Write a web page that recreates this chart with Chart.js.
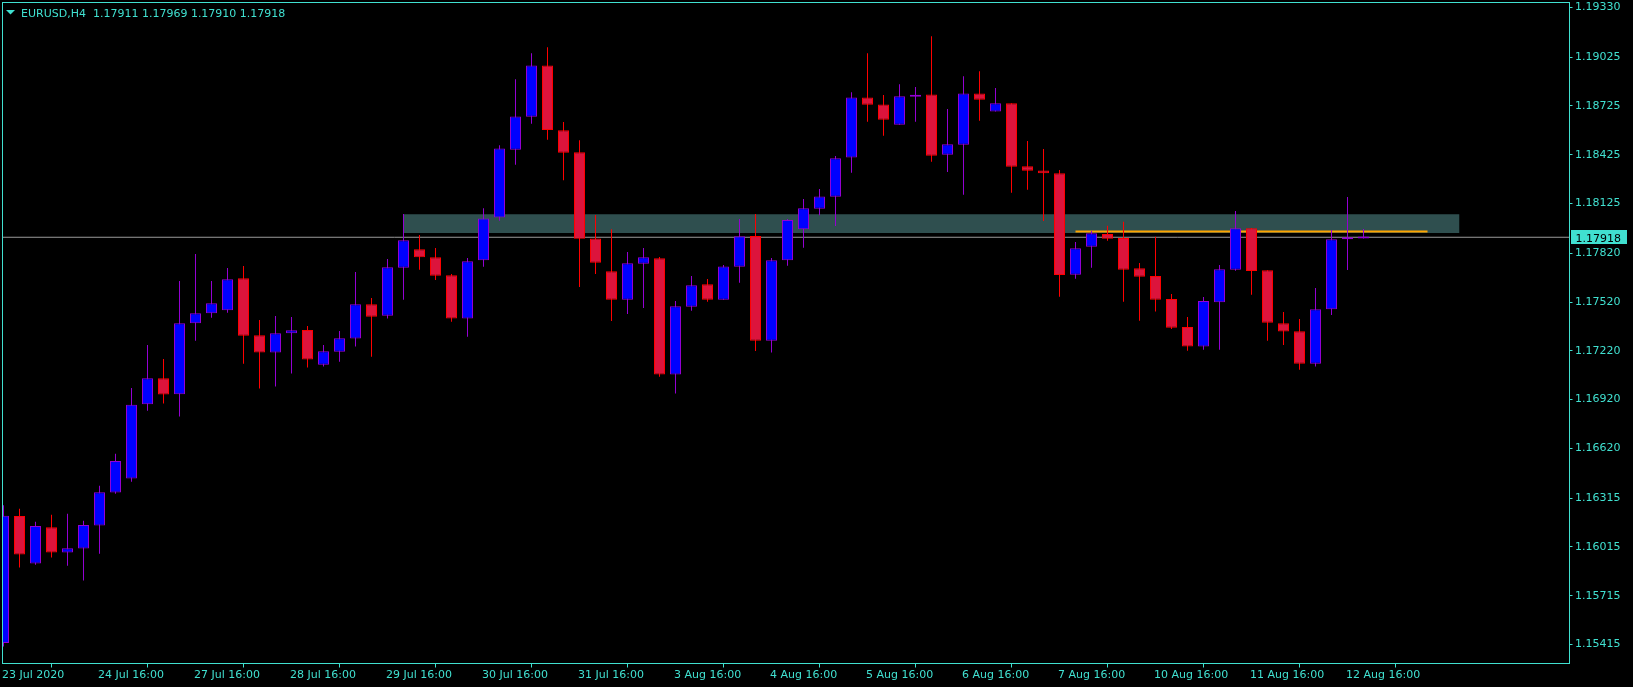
<!DOCTYPE html>
<html>
<head>
<meta charset="utf-8">
<title>EURUSD,H4</title>
<script src="https://cdn.jsdelivr.net/npm/chart.js@4.4.1/dist/chart.umd.min.js"></script>
<style>
  html, body { margin: 0; padding: 0; background: #000; }
  canvas { display: block; }
</style>
</head>
<body>
<canvas id="eurusdChart" width="1633" height="687"></canvas>
<script>
// H4 candles, 23 Jul 2020 16:00 .. 12 Aug 2020 20:00 (one entry per bar)
const opens = [
  1.15424, 1.16204, 1.15913, 1.16136, 1.15980, 1.16005, 1.16146, 1.16349, 1.16435, 1.16892,
  1.17052, 1.16953, 1.17389, 1.17451, 1.17469, 1.17666, 1.17316, 1.17209, 1.17328, 1.17348,
  1.17135, 1.17215, 1.17295, 1.17506, 1.17436, 1.17731, 1.17844, 1.17795, 1.17684, 1.17418,
  1.17776, 1.18040, 1.18456, 1.18658, 1.18974, 1.18575, 1.18440, 1.17911, 1.17709, 1.17534,
  1.17755, 1.17789, 1.17074, 1.17491, 1.17629, 1.17534, 1.17737, 1.17926, 1.17282, 1.17776,
  1.17967, 1.18093, 1.18167, 1.18409, 1.18777, 1.18734, 1.18609, 1.18781, 1.18796, 1.18425,
  1.18486, 1.18802, 1.18691, 1.18741, 1.18354, 1.18329, 1.18312, 1.17688, 1.17860, 1.17938,
  1.17913, 1.17727, 1.17680, 1.17539, 1.17367, 1.17246, 1.17518, 1.17719, 1.17973, 1.17715,
  1.17389, 1.17340, 1.17141, 1.17475, 1.17905, 1.17911
];
const highs = [
  1.16271, 1.16249, 1.16169, 1.16212, 1.16218, 1.16175, 1.16390, 1.16587, 1.16992, 1.17256,
  1.17170, 1.17649, 1.17815, 1.17649, 1.17729, 1.17741, 1.17410, 1.17434, 1.17428, 1.17373,
  1.17256, 1.17342, 1.17704, 1.17545, 1.17784, 1.18061, 1.17932, 1.17852, 1.17692, 1.17790,
  1.18097, 1.18484, 1.18890, 1.19049, 1.19086, 1.18626, 1.18515, 1.18055, 1.17967, 1.17827,
  1.17852, 1.17797, 1.17526, 1.17680, 1.17661, 1.17747, 1.18030, 1.18061, 1.17790, 1.18030,
  1.18153, 1.18214, 1.18417, 1.18810, 1.19049, 1.18792, 1.18859, 1.18841, 1.19154, 1.18706,
  1.18908, 1.18939, 1.18835, 1.18741, 1.18509, 1.18460, 1.18331, 1.17889, 1.17956, 1.17989,
  1.18013, 1.17760, 1.17921, 1.17569, 1.17428, 1.17551, 1.17747, 1.18079, 1.17975, 1.17715,
  1.17459, 1.17416, 1.17606, 1.17962, 1.18165, 1.17969
];
const lows = [
  1.15403, 1.15888, 1.15905, 1.15950, 1.15899, 1.15808, 1.15972, 1.16341, 1.16415, 1.16851,
  1.16896, 1.16816, 1.17282, 1.17424, 1.17454, 1.17141, 1.16988, 1.17000, 1.17080, 1.17117,
  1.17123, 1.17153, 1.17246, 1.17184, 1.17418, 1.17534, 1.17719, 1.17655, 1.17399, 1.17307,
  1.17737, 1.18019, 1.18363, 1.18615, 1.18517, 1.18269, 1.17612, 1.17692, 1.17403, 1.17446,
  1.17483, 1.17061, 1.16957, 1.17467, 1.17522, 1.17534, 1.17639, 1.17219, 1.17209, 1.17743,
  1.17854, 1.18054, 1.17987, 1.18314, 1.18628, 1.18542, 1.18609, 1.18628, 1.18382, 1.18319,
  1.18179, 1.18634, 1.18691, 1.18191, 1.18210, 1.18018, 1.17553, 1.17663, 1.17731, 1.17897,
  1.17522, 1.17405, 1.17461, 1.17354, 1.17221, 1.17227, 1.17227, 1.17712, 1.17565, 1.17282,
  1.17256, 1.17104, 1.17123, 1.17440, 1.17717, 1.17910
];
const closes = [
  1.16206, 1.15968, 1.16143, 1.15980, 1.16007, 1.16149, 1.16351, 1.16542, 1.16888, 1.17052,
  1.16951, 1.17389, 1.17451, 1.17512, 1.17660, 1.17313, 1.17209, 1.17328, 1.17346, 1.17166,
  1.17217, 1.17297, 1.17506, 1.17430, 1.17733, 1.17899, 1.17795, 1.17682, 1.17418, 1.17770,
  1.18034, 1.18464, 1.18661, 1.18974, 1.18578, 1.18437, 1.17909, 1.17761, 1.17534, 1.17758,
  1.17795, 1.17074, 1.17494, 1.17623, 1.17534, 1.17739, 1.17924, 1.17282, 1.17776, 1.18024,
  1.18096, 1.18169, 1.18403, 1.18777, 1.18732, 1.18640, 1.18784, 1.18790, 1.18419, 1.18489,
  1.18802, 1.18763, 1.18741, 1.18351, 1.18327, 1.18311, 1.17686, 1.17850, 1.17942, 1.17909,
  1.17719, 1.17676, 1.17534, 1.17362, 1.17246, 1.17526, 1.17721, 1.17973, 1.17711, 1.17393,
  1.17338, 1.17141, 1.17475, 1.17905, 1.17913, 1.17918
];

// axis labels
const dateTickIdx = [0, 6, 12, 18, 24, 30, 36, 42, 48, 54, 60, 66, 72, 78, 84];
const dateLabels = [
  '23 Jul 2020', '24 Jul 16:00', '27 Jul 16:00', '28 Jul 16:00', '29 Jul 16:00',
  '30 Jul 16:00', '31 Jul 16:00', '3 Aug 16:00', '4 Aug 16:00', '5 Aug 16:00',
  '6 Aug 16:00', '7 Aug 16:00', '10 Aug 16:00', '11 Aug 16:00', '12 Aug 16:00'
];
const priceTicks = [
  1.19330, 1.19025, 1.18725, 1.18425, 1.18125, 1.17820, 1.17520,
  1.17220, 1.16920, 1.16620, 1.16315, 1.16015, 1.15715, 1.15415
];

// drawn objects: supply/demand zone and the orange level
const zoneBar = [25, 91];
const zonePrice = [1.17944, 1.18060];
const levelBar = [67, 89];
const levelPrice = 1.17953;

const SYMBOL = 'EURUSD,H4';
const X_MIN = -0.0625, X_MAX = 97.875;
const Y_MIN = 1.15298, Y_MAX = 1.19361;

const FG = '#40E0D0';
const BULL_FILL = '#0000FF', BULL_EDGE = '#9400D3';
const BEAR_FILL = '#DC143C', BEAR_EDGE = '#FF0000';
const FONT = { family: 'DejaVu Sans', size: 11 };

const isBull = closes.map((c, i) => c >= opens[i]);
const lastClose = closes[closes.length - 1];

// MT4 lets the edge labels hang past the plot, so drop chart.js' label padding
function noEdgePadding(scale) {
  scale.paddingTop = 0;
  scale.paddingBottom = 0;
  scale.paddingLeft = 0;
  scale.paddingRight = 0;
}

const mt4Overlay = {
  id: 'mt4Overlay',
  afterDraw(chart) {
    const ctx = chart.ctx;
    const area = chart.chartArea;
    const n = closes.length - 1;
    ctx.save();
    ctx.strokeStyle = FG;
    ctx.lineWidth = 1;
    ctx.strokeRect(area.left, area.top, area.right - area.left, area.bottom - area.top);

    // header: little triangle + symbol and last OHLC
    ctx.fillStyle = FG;
    ctx.beginPath();
    ctx.moveTo(6, 10);
    ctx.lineTo(15, 10);
    ctx.lineTo(10.5, 14.5);
    ctx.closePath();
    ctx.fill();
    ctx.font = '11px "DejaVu Sans"';
    ctx.textBaseline = 'alphabetic';
    const ohlc = [opens[n], highs[n], lows[n], closes[n]].map(v => v.toFixed(5)).join(' ');
    ctx.fillText(SYMBOL + '  ' + ohlc, 21, 17);

    // bid price box on the price scale
    const py = Math.round(chart.scales.y.getPixelForValue(lastClose));
    ctx.fillRect(area.right + 1.5, py - 7, 56, 14);
    ctx.fillStyle = '#000';
    ctx.fillText(lastClose.toFixed(5), area.right + 6, py + 4.5);
    ctx.restore();
  }
};

new Chart(document.getElementById('eurusdChart'), {
  type: 'bar',
  data: {
    datasets: [
      {
        label: 'bodies',
        data: opens.map((o, i) => ({ x: i, y: [o, closes[i]] })),
        backgroundColor: isBull.map(b => b ? BULL_FILL : BEAR_FILL),
        borderColor: isBull.map(b => b ? BULL_EDGE : BEAR_EDGE),
        borderWidth: 1,
        borderSkipped: false,
        barThickness: 11,
        minBarLength: 2,
        inflateAmount: 0,
        grouped: false,
        order: 1
      },
      {
        label: 'wicks',
        data: lows.map((l, i) => ({ x: i, y: [l, highs[i]] })),
        backgroundColor: isBull.map(b => b ? BULL_EDGE : BEAR_EDGE),
        borderWidth: 0,
        barThickness: 1,
        inflateAmount: 0,
        grouped: false,
        order: 2
      },
      {
        type: 'line',
        label: 'level',
        data: levelBar.map(x => ({ x: x, y: levelPrice })),
        borderColor: '#FFA500',
        borderWidth: 2,
        pointRadius: 0,
        fill: false,
        order: 3
      },
      {
        type: 'line',
        label: 'bid',
        data: [{ x: X_MIN, y: lastClose }, { x: X_MAX, y: lastClose }],
        borderColor: '#9a9a9a',
        borderWidth: 1,
        pointRadius: 0,
        fill: false,
        order: 4
      },
      {
        type: 'line',
        label: 'zone',
        data: zoneBar.map(x => ({ x: x, y: zonePrice[1] })),
        fill: { value: zonePrice[0] },
        backgroundColor: '#2F4F4F',
        borderColor: 'rgba(0,0,0,0)',
        borderWidth: 0,
        pointRadius: 0,
        order: 5
      }
    ]
  },
  options: {
    responsive: false,
    devicePixelRatio: 1,
    animation: false,
    events: [],
    layout: { padding: { left: 2.5, top: 2.5, right: 0, bottom: 0 } },
    plugins: {
      legend: { display: false },
      tooltip: { enabled: false }
    },
    scales: {
      x: {
        type: 'linear',
        min: X_MIN,
        max: X_MAX,
        offset: false,
        bounds: 'data',
        grid: { drawOnChartArea: false, drawTicks: true, tickLength: 4, color: FG },
        border: { display: false },
        ticks: {
          autoSkip: false,
          maxRotation: 0,
          align: 'start',
          labelOffset: -1.5,
          padding: 1,
          color: FG,
          font: FONT,
          callback(value) {
            return dateLabels[dateTickIdx.indexOf(value)];
          }
        },
        afterBuildTicks(scale) {
          scale.ticks = dateTickIdx.map(v => ({ value: v }));
        },
        afterFit(scale) {
          scale.height = 23.5;
          noEdgePadding(scale);
        }
      },
      y: {
        position: 'right',
        min: Y_MIN,
        max: Y_MAX,
        bounds: 'data',
        grid: { drawOnChartArea: false, drawTicks: true, tickLength: 3, color: FG },
        border: { display: false },
        ticks: {
          autoSkip: false,
          padding: 2.5,
          color: FG,
          font: FONT,
          callback(value) {
            return Number(value).toFixed(5);
          }
        },
        afterBuildTicks(scale) {
          scale.ticks = priceTicks.map(v => ({ value: v }));
        },
        afterFit(scale) {
          scale.width = 63.5;
          noEdgePadding(scale);
        }
      }
    }
  },
  plugins: [mt4Overlay]
});
</script>
</body>
</html>
